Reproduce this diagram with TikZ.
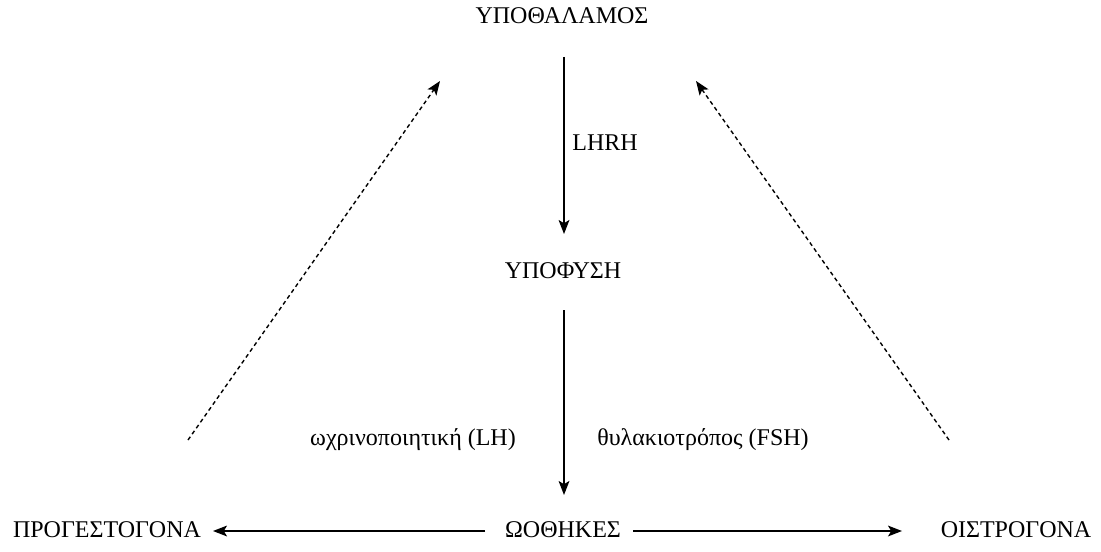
\documentclass[tikz,border=0pt]{standalone}
\usepackage{fontspec}
\setmainfont{Liberation Serif}
\usetikzlibrary{arrows.meta}
\begin{document}
\begin{tikzpicture}[x=0.5pt,y=-0.5pt,
  lbl/.style={inner sep=0pt, font=\fontsize{12}{14}\selectfont},
  arr/.style={line width=0.7pt, -{Stealth[length=7pt,width=5.4pt,inset=1.6pt]}},
  feedback/.style={arr, dash pattern=on 2pt off 1.6pt}]
\useasboundingbox (0,0) rectangle (1101,551);
\node[lbl] (hyp) at (562,16) {ΥΠΟΘΑΛΑΜΟΣ};
\node[lbl] (pit) at (563,271) {ΥΠΟΦΥΣΗ};
\node[lbl] (ova) at (563,530) {ΩΟΘΗΚΕΣ};
\node[lbl] (prog) at (107,530) {ΠΡΟΓΕΣΤΟΓΟΝΑ};
\node[lbl] (oest) at (1016,530) {ΟΙΣΤΡΟΓΟΝΑ};
\node[lbl] (lhrh) at (605,143) {LHRH};
\node[lbl] (lh) at (413,440) {ωχρινοποιητική (LH)};
\node[lbl] (fsh) at (703,440) {θυλακιοτρόπος (FSH)};
\coordinate (a1) at (564,57);
\coordinate (a2) at (564,234);
\coordinate (b1) at (564,310);
\coordinate (b2) at (564,495);
\coordinate (c1) at (485,531);
\coordinate (c2) at (213,531);
\coordinate (d1) at (633,531);
\coordinate (d2) at (902,531);
\coordinate (e1) at (188,440);
\coordinate (e2) at (440,81);
\coordinate (f1) at (949,440);
\coordinate (f2) at (696,81);
\draw[arr] (a1) -- (a2);
\draw[arr] (b1) -- (b2);
\draw[arr] (c1) -- (c2);
\draw[arr] (d1) -- (d2);
\draw[feedback] (e1) -- (e2);
\draw[feedback] (f1) -- (f2);
\end{tikzpicture}
\end{document}
